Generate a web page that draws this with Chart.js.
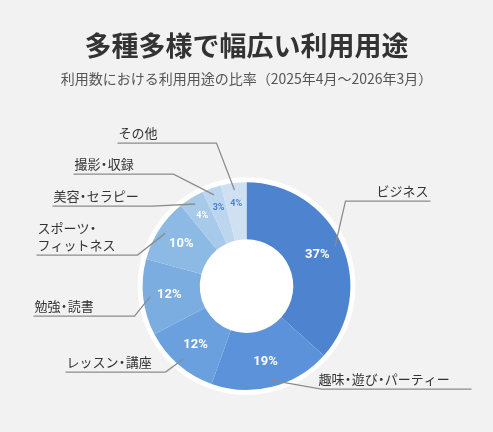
<!DOCTYPE html>
<html lang="ja">
<head>
<meta charset="utf-8">
<script src="https://cdn.jsdelivr.net/npm/chart.js@4.4.1/dist/chart.umd.min.js"></script>
<style>
  html, body { margin: 0; padding: 0; background: #f2f2f2; }
  canvas { display: block; }
</style>
</head>
<body>
<canvas id="usageChart" width="493" height="432"></canvas>
<script>
// usage categories and their share (%)
const categories = ['ビジネス', '趣味・遊び・パーティー', 'レッスン・講座', '勉強・読書',
                    ['スポーツ・', 'フィットネス'], '美容・セラピー', '撮影・収録', 'その他'];
const shares = [37, 19, 12, 12, 10, 4, 3, 4];
const sliceColors = ['#4d83cf', '#5b92d9', '#69a0dd', '#7bade1', '#8dbae4', '#a7c9ea', '#bcd6ef', '#cee0f1'];
const percentColors = ['#fff', '#fff', '#fff', '#fff', '#fff', '#fff', '#4a7fcf', '#4a7fcf'];

// callout placement, relative to the doughnut centre
// elbow = where the leader bends, end = far x of the underline
const calloutLayout = [
    { elbow: [99, -85],   end: 184,  align: 'right' },
    { elbow: [75, 103],   end: 225,  align: 'left-elbow' },
    { elbow: [-81, 86],   end: -181, align: 'left' },
    { elbow: [-112, 30],  end: -213, align: 'left' },
    { elbow: [-109, -31], end: -210, align: 'left' },
    { elbow: [-94, -80],  end: -194, align: 'left' },
    { elbow: [-73, -112], end: -173, align: 'left' },
    { elbow: [-30, -143], end: -129, align: 'left' }
];

const FONT = '"Noto Sans CJK JP", "Noto Sans", sans-serif';

// draw text with the middle dot set narrower (like proportional CJK punctuation)
function drawTight(ctx, text, x, y, align, size) {
    const dotSlot = size * 0.55;
    const parts = [...text];
    const widths = parts.map(ch => ch === '・' ? dotSlot : ctx.measureText(ch).width);
    const total = widths.reduce((a, b) => a + b, 0);
    let cur = align === 'right' ? x - total : x;
    ctx.textAlign = 'left';
    parts.forEach((ch, k) => {
        if (ch === '・') {
            const full = ctx.measureText(ch).width;
            ctx.fillText(ch, cur + dotSlot / 2 - full / 2, y);
        } else {
            ctx.fillText(ch, cur, y);
        }
        cur += widths[k];
    });
}

const calloutPlugin = {
    id: 'callouts',
    beforeDatasetsDraw(chart) {
        // white rim round the ring
        const arc = chart.getDatasetMeta(0).data[0];
        if (!arc) return;
        const ctx = chart.ctx;
        ctx.save();
        ctx.beginPath();
        ctx.arc(arc.x, arc.y, arc.outerRadius + 5, 0, Math.PI * 2);
        ctx.fillStyle = '#ffffff';
        ctx.fill();
        ctx.restore();
    },
    afterDatasetsDraw(chart) {
        const ctx = chart.ctx;
        const meta = chart.getDatasetMeta(0);
        ctx.save();
        meta.data.forEach((arc, i) => {
            const { x, y, startAngle, endAngle, innerRadius, outerRadius } =
                arc.getProps(['x', 'y', 'startAngle', 'endAngle', 'innerRadius', 'outerRadius'], true);
            const mid = (startAngle + endAngle) / 2;
            const value = shares[i];

            // percentage inside the slice
            const small = value < 5;
            const r = innerRadius + (outerRadius - innerRadius) * (small ? 0.64 : 0.54);
            ctx.fillStyle = percentColors[i];
            ctx.font = `bold ${small ? 9 : 13}px Roboto, ${FONT}`;
            ctx.textAlign = 'center';
            ctx.textBaseline = 'middle';
            ctx.fillText(value + '%', x + Math.cos(mid) * r, y + Math.sin(mid) * r);

            // leader line
            const lay = calloutLayout[i];
            const sx = x + Math.cos(mid) * (outerRadius - 7);
            const sy = y + Math.sin(mid) * (outerRadius - 7);
            const ex = x + lay.elbow[0];
            const ey = y + lay.elbow[1];
            const fx = x + lay.end;
            ctx.strokeStyle = '#8c8c8c';
            ctx.lineWidth = 1.3;
            ctx.beginPath();
            ctx.moveTo(sx, sy);
            ctx.lineTo(ex, ey);
            ctx.lineTo(fx, ey);
            ctx.stroke();

            // category text above the underline
            const lines = Array.isArray(categories[i]) ? categories[i] : [categories[i]];
            ctx.fillStyle = '#333333';
            ctx.font = `13px ${FONT}`;
            ctx.textBaseline = 'alphabetic';
            let tx, al = 'left';
            if (lay.align === 'right') {
                al = 'right';
                tx = fx - 2;
            } else if (lay.align === 'left-elbow') {
                tx = ex - 3;
            } else {
                tx = fx + 1;
            }
            lines.forEach((line, k) => {
                drawTight(ctx, line, tx, ey - 5 - (lines.length - 1 - k) * 17, al, 13);
            });
        });
        ctx.restore();
    }
};

const ctx = document.getElementById('usageChart').getContext('2d');
new Chart(ctx, {
    type: 'doughnut',
    data: {
        labels: categories,
        datasets: [{
            data: shares,
            backgroundColor: sliceColors,
            borderWidth: 0,
            hoverOffset: 0
        }]
    },
    options: {
        responsive: false,
        animation: false,
        cutout: '45%',
        layout: {
            padding: { top: 0, bottom: 42, left: 0, right: 0 }
        },
        plugins: {
            legend: { display: false },
            tooltip: { enabled: false },
            title: {
                display: true,
                text: '多種多様で幅広い利用用途',
                color: '#333333',
                font: { family: FONT, size: 27, weight: 'bold', lineHeight: 1.2 },
                padding: { top: 30, bottom: 8 }
            },
            subtitle: {
                display: true,
                text: '利用数における利用用途の比率（2025年4月～2026年3月）',
                color: '#555555',
                font: { family: FONT, size: 14, lineHeight: 1.2 },
                padding: { top: 0, bottom: 95 }
            }
        }
    },
    plugins: [calloutPlugin]
});
</script>
</body>
</html>
